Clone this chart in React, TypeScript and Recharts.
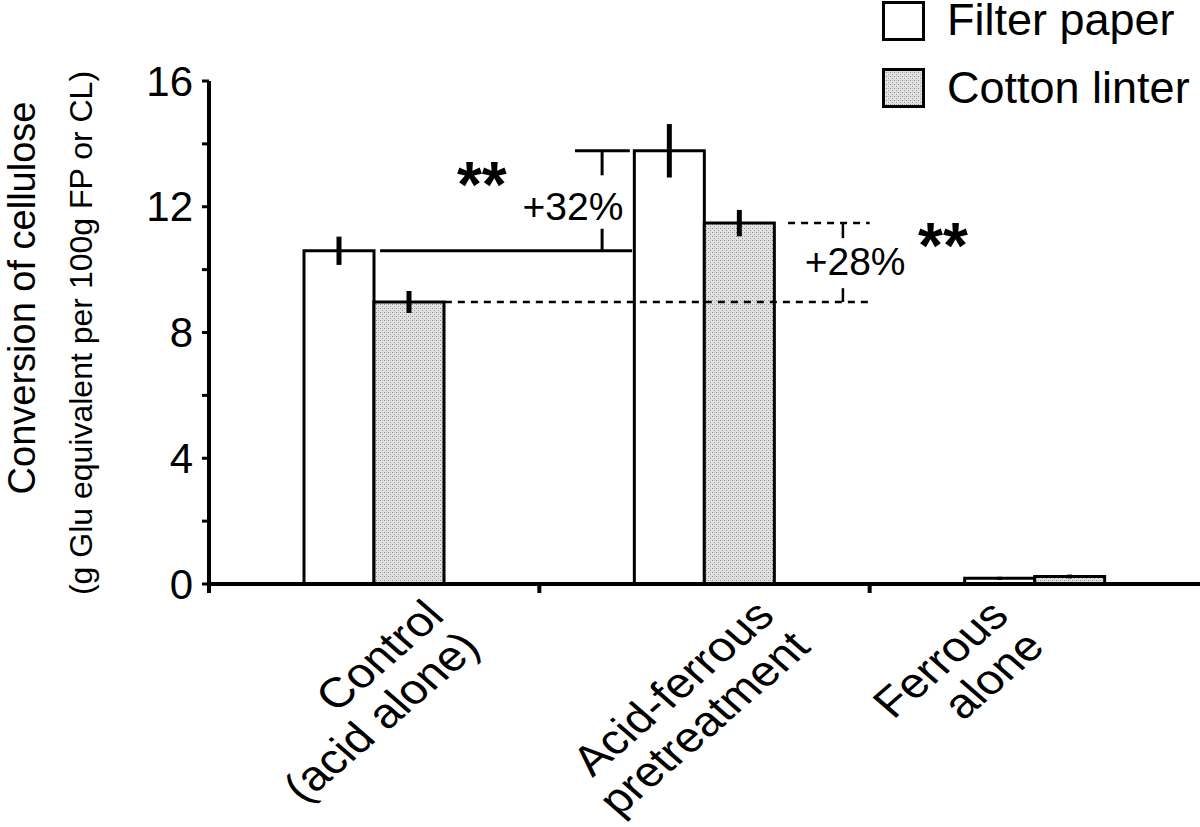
import React from 'react';
import { BarChart, Bar, XAxis, YAxis, ErrorBar, ReferenceLine, ReferenceDot } from 'recharts';

// categories (two text lines each)
const categories = [
  ['Control', '(acid alone)'],
  ['Acid-ferrous', 'pretreatment'],
  ['Ferrous', 'alone'],
];
const filterPaper = [10.6, 13.78, 0.18];
const filterPaperErr = [0.45, 0.85, 0.05];
const cottonLinter = [8.97, 11.48, 0.24];
const cottonLinterErr = [0.35, 0.42, 0.06];
const yTicks = [0, 2, 4, 6, 8, 10, 12, 14, 16];
const yTickLabels = [0, 4, 8, 12, 16];
const gainLabels = ['+32%', '+28%'];
const signif = ['**', '**'];

const W = 1200;
const H = 827;
const AXIS_W = 60;
const AXIS_H = 60;
const M = { top: 81, right: 0, left: 209 - AXIS_W, bottom: 243 - AXIS_H };
const PLOT_W = W - M.left - AXIS_W - M.right;
const BAND = PLOT_W / categories.length;
const FONT = 'Arial, "Liberation Sans", sans-serif';
// where the first label line ends, relative to the category centre
const LABEL_DX = [72, 72, -24];

const data = categories.map((c, i) => ({
  name: c.join(' '),
  pos: i + 0.5,
  fp: filterPaper[i],
  fpErr: filterPaperErr[i],
  cl: cottonLinter[i],
  clErr: cottonLinterErr[i],
}));

const YTick = (props: any) => {
  const { x, y, payload } = props;
  if (!yTickLabels.includes(payload.value)) return null;
  return (
    <text x={x} y={y} textAnchor="end" dominantBaseline="central" fontSize={42} fontFamily={FONT} fill="#000">
      {payload.value}
    </text>
  );
};

const XTick = (props: any) => {
  const { x, y, index } = props;
  const lines = categories[index];
  return (
    <g>
      {index === 0 && <line x1={x - BAND / 2} x2={x - BAND / 2} y1={y} y2={y + 9} stroke="#000" strokeWidth={4} />}
      {index < categories.length - 1 && (
        <line x1={x + BAND / 2} x2={x + BAND / 2} y1={y} y2={y + 9} stroke="#000" strokeWidth={4} />
      )}
      <g transform={`translate(${x + LABEL_DX[index]},${y + 34}) scale(1.15,1) rotate(-45)`}>
        <text textAnchor="end" fontSize={42} fontFamily={FONT} fill="#000">
          <tspan x={0} y={0}>{lines[0]}</tspan>
          <tspan x={0} y={44}>{lines[1]}</tspan>
        </text>
      </g>
    </g>
  );
};

const YLabel = () => (
  <g fontFamily={FONT} fill="#000">
    <text transform="translate(35,298) rotate(-90)" textAnchor="middle" fontSize={38}>
      Conversion of cellulose
    </text>
    <text transform="translate(92,333) rotate(-90)" textAnchor="middle" fontSize={32}>
      (g Glu equivalent per 100g FP or CL)
    </text>
  </g>
);

const legendItems = [
  { label: 'Filter paper', fill: '#fff', top: 1, base: 35 },
  { label: 'Cotton linter', fill: 'url(#stipple)', top: 68, base: 103 },
];

const LegendBox = () => (
  <svg width={318} height={112} style={{ position: 'absolute', left: 882, top: 0, overflow: 'visible' }}>
    {legendItems.map((it) => (
      <g key={it.label}>
        <rect x={1.5} y={it.top + 1.5} width={40} height={37} fill={it.fill} stroke="#000" strokeWidth={3} />
        <text x={65} y={it.base} fontSize={45} fontFamily={FONT} fill="#000">{it.label}</text>
      </g>
    ))}
  </svg>
);

const Note = (text: string, size: number, bold = false) => (p: any) => (
  <text x={p.cx} y={p.cy} textAnchor="middle" dominantBaseline="central" fontSize={size}
    fontWeight={bold ? 'bold' : 'normal'} fontFamily={FONT} fill="#000">
    {text}
  </text>
);

export default function App() {
  const ln = { stroke: '#000', strokeWidth: 3, xAxisId: 'n', ifOverflow: 'visible' as const };
  const dash = { stroke: '#000', strokeWidth: 2.5, strokeDasharray: '7 6', xAxisId: 'n', ifOverflow: 'visible' as const };
  return (
    <div style={{ position: 'absolute', left: 0, top: 0, width: W, height: H, background: '#fff' }}>
      <svg width={0} height={0} style={{ position: 'absolute' }}>
        <defs>
          <pattern id="stipple" width={4} height={4} patternUnits="userSpaceOnUse">
            <rect width={4} height={4} fill="#e2e2e2" />
            <rect x={0} y={0} width={1} height={1} fill="#8a8a8a" />
            <rect x={2} y={2} width={1} height={1} fill="#9a9a9a" />
            <rect x={2} y={0} width={1} height={1} fill="#c4c4c4" />
          </pattern>
        </defs>
      </svg>
      <BarChart width={W} height={H} data={data} margin={M} barGap={0} barSize={70}>
        <XAxis dataKey="name" height={AXIS_H} tickSize={0} tickMargin={0} tickLine={false}
          axisLine={{ stroke: '#000', strokeWidth: 4 }} tick={<XTick />} interval={0} />
        <XAxis xAxisId="n" dataKey="pos" type="number" domain={[0, 3]} allowDataOverflow hide />
        <YAxis width={AXIS_W} domain={[0, 16]} ticks={yTicks} interval={0} tickSize={7} tickMargin={9}
          allowDataOverflow axisLine={{ stroke: '#000', strokeWidth: 4 }} tickLine={{ stroke: '#000', strokeWidth: 3 }}
          tick={<YTick />} label={{ content: () => <YLabel /> }} />
        <Bar dataKey="fp" fill="#fff" stroke="#000" strokeWidth={3} isAnimationActive={false}>
          <ErrorBar dataKey="fpErr" width={0} stroke="#000" strokeWidth={5} isAnimationActive={false} />
        </Bar>
        <Bar dataKey="cl" fill="url(#stipple)" stroke="#000" strokeWidth={3} isAnimationActive={false}>
          <ErrorBar dataKey="clErr" width={0} stroke="#000" strokeWidth={5} isAnimationActive={false} />
        </Bar>

        {/* +32% : filter paper, control vs acid-ferrous */}
        <ReferenceLine {...ln} segment={[{ x: 0.518, y: filterPaper[0] }, { x: 1.281, y: filterPaper[0] }]} />
        <ReferenceLine {...ln} segment={[{ x: 1.108, y: filterPaper[1] }, { x: 1.274, y: filterPaper[1] }]} />
        <ReferenceLine {...ln} segment={[{ x: 1.19, y: filterPaper[0] }, { x: 1.19, y: 11.3 }]} />
        <ReferenceLine {...ln} segment={[{ x: 1.19, y: 13.0 }, { x: 1.19, y: filterPaper[1] }]} />
        <ReferenceDot xAxisId="n" x={1.102} y={12.0} r={1} shape={Note(gainLabels[0], 39)} />
        <ReferenceDot xAxisId="n" x={0.826} y={12.7} r={1} shape={Note(signif[0], 64, true)} />

        {/* +28% : cotton linter, control vs acid-ferrous */}
        <ReferenceLine {...dash} segment={[{ x: 0.714, y: cottonLinter[0] }, { x: 2.0, y: cottonLinter[0] }]} />
        <ReferenceLine {...dash} segment={[{ x: 1.753, y: cottonLinter[1] }, { x: 2.0, y: cottonLinter[1] }]} />
        <ReferenceLine {...ln} strokeWidth={2.5} segment={[{ x: 1.919, y: cottonLinter[1] }, { x: 1.919, y: 11.0 }]} />
        <ReferenceLine {...ln} strokeWidth={2.5} segment={[{ x: 1.919, y: 9.41 }, { x: 1.919, y: cottonLinter[0] }]} />
        <ReferenceDot xAxisId="n" x={1.956} y={10.25} r={1} shape={Note(gainLabels[1], 39)} />
        <ReferenceDot xAxisId="n" x={2.222} y={10.75} r={1} shape={Note(signif[1], 64, true)} />
      </BarChart>
      <LegendBox />
    </div>
  );
}
